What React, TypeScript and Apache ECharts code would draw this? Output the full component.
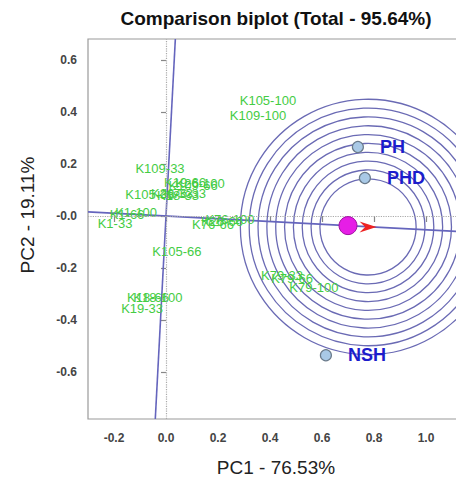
import React, { useEffect, useRef } from "react";
import * as echarts from "echarts";

const titleText = "Comparison biplot (Total - 95.64%)";
const xName = "PC1 - 76.53%";
const yName = "PC2 - 19.11%";

const xTicks = [-0.2, 0.0, 0.2, 0.4, 0.6, 0.8, 1.0];
const yTicks = [-0.6, -0.4, -0.2, 0.0, 0.2, 0.4, 0.6];
const xRange = [-0.3, 1.2];
const yRange = [-0.78, 0.68];

const genotypeNames = [
  "K105-100", "K109-100", "K109-33", "K19-66", "K109-66", "K26-100",
  "K105-33", "K26-33", "K18-33", "K76-33", "K1-100", "K1-66", "K1-33",
  "K76-66", "K26-66", "K76-100", "K105-66", "K18-66", "K18-100", "K19-33",
  "K79-33", "K79-66", "K79-100",
];
const genotypeX = [
  0.392, 0.354, -0.023, 0.073, 0.104, 0.131,
  -0.062, 0.023, 0.046, 0.073, -0.115, -0.15, -0.196,
  0.181, 0.215, 0.246, 0.042, -0.069, -0.031, -0.092,
  0.446, 0.485, 0.569,
];
const genotypeY = [
  0.442, 0.385, 0.181, 0.127, 0.119, 0.123,
  0.081, 0.085, 0.077, 0.088, 0.015, 0.004, -0.027,
  -0.031, -0.023, -0.015, -0.135, -0.312, -0.312, -0.354,
  -0.227, -0.242, -0.273,
];

const envNames = ["PH", "PHD", "NSH"];
const envX = [0.738, 0.765, 0.615];
const envY = [0.265, 0.146, -0.535];

const averageEnv = [0.70, -0.037];
const idealPoint = [0.777, -0.042];
const circleRadii = [0.185, 0.219, 0.253, 0.287, 0.321, 0.355, 0.389, 0.423, 0.457, 0.491];

export default function App() {
  const ref = useRef<HTMLDivElement>(null);

  useEffect(() => {
    if (!ref.current) return;
    const chart = echarts.init(ref.current, null, { renderer: "svg" });

    const slope = averageEnv[1] / averageEnv[0];
    const aeaLine = [
      [xRange[0], xRange[0] * slope],
      [xRange[1], xRange[1] * slope],
    ];
    const perpLine = [
      [-yRange[0] * slope, yRange[0]],
      [-yRange[1] * slope, yRange[1]],
    ];

    const lineBlue = "#6565bd";
    const font = "Arial, 'Liberation Sans', sans-serif";

    const option: any = {
      animation: false,
      backgroundColor: "#ffffff",
      grid: {
        left: 88,
        top: 39,
        right: 0,
        bottom: 62,
        show: true,
        borderColor: "#9a9a9a",
        borderWidth: 1.2,
      },
      xAxis: {
        type: "value",
        min: xRange[0],
        max: xRange[1],
        axisLine: { show: false },
        splitLine: { show: false },
        axisTick: {
          show: true,
          customValues: xTicks,
          length: 6,
          lineStyle: { color: "#888", width: 1.2 },
        },
        axisLabel: {
          customValues: xTicks,
          margin: 13,
          fontFamily: font,
          fontSize: 12,
          fontWeight: "bold",
          color: "#444",
          formatter: (v: number) => v.toFixed(1),
        },
      },
      yAxis: {
        type: "value",
        min: yRange[0],
        max: yRange[1],
        axisLine: { show: false },
        splitLine: { show: false },
        axisTick: {
          show: true,
          customValues: yTicks,
          length: 5,
          lineStyle: { color: "#888", width: 1.2 },
        },
        axisLabel: {
          customValues: yTicks,
          margin: 11,
          fontFamily: font,
          fontSize: 12,
          fontWeight: "bold",
          color: "#444",
          formatter: (v: number) => (Math.abs(v) < 1e-9 ? "-0.0" : v.toFixed(1)),
        },
      },
      graphic: [
        {
          type: "text",
          x: 276,
          y: 18,
          style: {
            text: titleText,
            fontFamily: font,
            fontSize: 19,
            fontWeight: "bold",
            fill: "#111",
            textAlign: "center",
            textVerticalAlign: "middle",
          },
        },
        {
          type: "text",
          x: 276,
          y: 467,
          style: {
            text: xName,
            fontFamily: font,
            fontSize: 19,
            fill: "#222",
            textAlign: "center",
            textVerticalAlign: "middle",
          },
        },
        {
          type: "text",
          x: 27,
          y: 215,
          rotation: Math.PI / 2,
          style: {
            text: yName,
            fontFamily: font,
            fontSize: 19,
            fill: "#222",
            textAlign: "center",
            textVerticalAlign: "middle",
          },
        },
      ],
      series: [
        {
          type: "scatter",
          symbolSize: 0,
          data: [],
          silent: true,
          markLine: {
            silent: true,
            symbol: "none",
            label: { show: false },
            lineStyle: { color: "#aaaaaa", type: "dotted", width: 1.2 },
            data: [{ xAxis: 0 }, { yAxis: 0 }],
          },
          z: 1,
        },
        {
          type: "custom",
          silent: true,
          clip: true,
          data: circleRadii.map((r) => [r]),
          encode: { x: -1, y: -1 },
          renderItem: (params: any, api: any) => {
            const c = api.coord(idealPoint);
            const r = api.size([api.value(0), 0])[0];
            return {
              type: "circle",
              shape: { cx: c[0], cy: c[1], r },
              style: { fill: "none", stroke: "#6a6ab4", lineWidth: 1.3 },
            };
          },
          z: 2,
        },
        {
          type: "line",
          data: aeaLine,
          symbol: "none",
          silent: true,
          lineStyle: { color: lineBlue, width: 1.6 },
          z: 3,
        },
        {
          type: "line",
          data: perpLine,
          symbol: "none",
          silent: true,
          lineStyle: { color: lineBlue, width: 1.6 },
          z: 3,
        },
        {
          type: "scatter",
          silent: true,
          symbolSize: 0,
          itemStyle: { opacity: 1 },
          data: genotypeNames.map((n, i) => ({ name: n, value: [genotypeX[i], genotypeY[i]] })),
          label: {
            show: true,
            position: "inside",
            formatter: (p: any) => p.name,
            fontFamily: font,
            fontSize: 13,
            color: "#44cc44",
          },
          z: 4,
        },
        {
          type: "scatter",
          silent: true,
          symbolSize: 11,
          itemStyle: { color: "#a9c9e6", borderColor: "#6a7a8a", borderWidth: 1.2, opacity: 1 },
          data: envNames.map((n, i) => ({ name: n, value: [envX[i], envY[i]] })),
          label: {
            show: true,
            position: "right",
            distance: 16,
            formatter: (p: any) => p.name,
            fontFamily: font,
            fontSize: 18,
            fontWeight: "bold",
            color: "#1c1ccc",
          },
          z: 5,
        },
        {
          type: "scatter",
          silent: true,
          symbolSize: 18,
          itemStyle: { color: "#e61ee6", borderColor: "#a010a0", borderWidth: 1, opacity: 1 },
          data: [averageEnv],
          z: 6,
        },
        {
          type: "scatter",
          silent: true,
          symbol: "path://M0,0 L12,5 L0,10 L4,5 Z",
          symbolSize: [17, 11],
          itemStyle: { color: "#ee2222", opacity: 1 },
          data: [idealPoint],
          z: 6,
        },
      ],
    };

    chart.setOption(option);
    return () => chart.dispose();
  }, []);

  return (
    <div
      style={{
        position: "fixed",
        left: 0,
        top: 0,
        width: 456,
        height: 481,
        overflow: "hidden",
        background: "#fff",
      }}
    >
      <div ref={ref} style={{ width: 478, height: 481 }} />
    </div>
  );
}
